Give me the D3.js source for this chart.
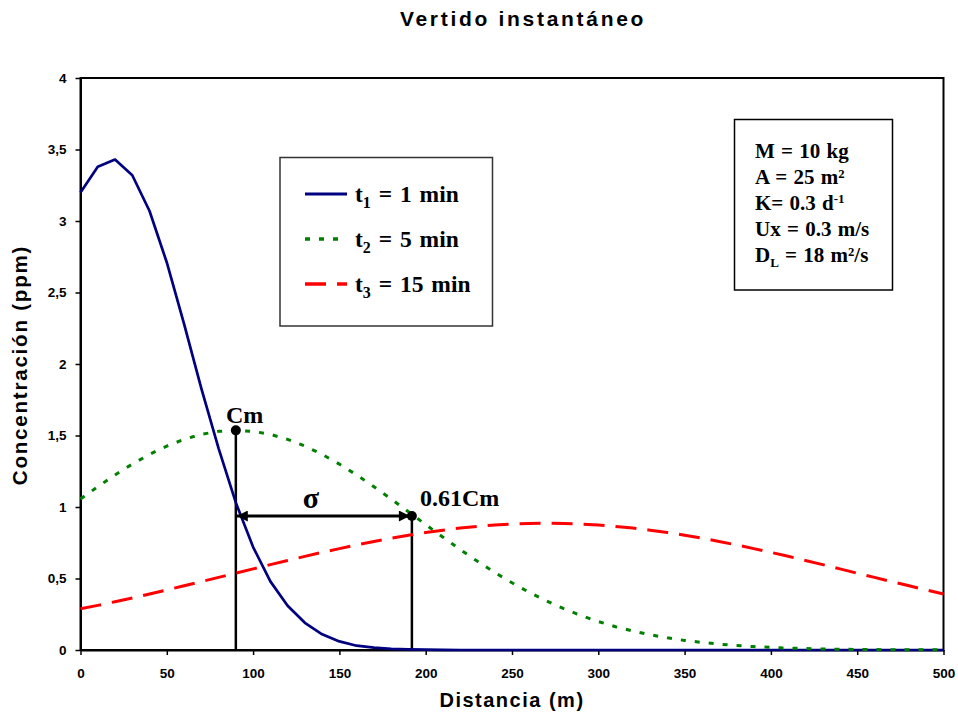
<!DOCTYPE html>
<html>
<head>
<meta charset="utf-8">
<script src="https://cdn.jsdelivr.net/npm/d3@7"></script>
<style>
  body { margin: 0; background: #fff; }
  svg { display: block; }
  .sans { font-family: "Liberation Sans", Arial, sans-serif; font-weight: bold; }
  .serif { font-family: "Liberation Serif", "Times New Roman", serif; font-weight: bold; }
</style>
</head>
<body>
<div id="chart"></div>
<script>
// distance (m), every 10 m
var distancia = d3.range(0, 501, 10);
// t1 = 1 min
var c_t1 = [3.20, 3.38, 3.43, 3.32, 3.07, 2.71, 2.28, 1.83, 1.41, 1.03,
            0.72, 0.48, 0.31, 0.19, 0.11, 0.06, 0.03, 0.016, 0.008, 0.004,
            0.002, 0.001, 0, 0, 0, 0, 0, 0, 0, 0,
            0, 0, 0, 0, 0, 0, 0, 0, 0, 0,
            0, 0, 0, 0, 0, 0, 0, 0, 0, 0, 0];
// t2 = 5 min
var c_t2 = [1.056, 1.142, 1.224, 1.300, 1.368, 1.426, 1.473, 1.508, 1.529, 1.536,
            1.529, 1.508, 1.473, 1.426, 1.368, 1.300, 1.224, 1.142, 1.056, 0.967,
            0.877, 0.789, 0.702, 0.620, 0.542, 0.470, 0.403, 0.343, 0.289, 0.241,
            0.199, 0.163, 0.133, 0.107, 0.085, 0.067, 0.053, 0.041, 0.031, 0.024,
            0.018, 0.013, 0.010, 0.007, 0.005, 0.004, 0.003, 0.002, 0.001, 0.001, 0.001];
// t3 = 15 min
var c_t3 = [0.288, 0.312, 0.338, 0.364, 0.392, 0.420, 0.449, 0.478, 0.508, 0.537,
            0.567, 0.597, 0.626, 0.655, 0.683, 0.709, 0.735, 0.759, 0.782, 0.803,
            0.822, 0.838, 0.853, 0.864, 0.874, 0.881, 0.885, 0.886, 0.885, 0.881,
            0.874, 0.864, 0.853, 0.838, 0.822, 0.803, 0.782, 0.759, 0.735, 0.709,
            0.683, 0.655, 0.626, 0.597, 0.567, 0.537, 0.508, 0.478, 0.449, 0.420, 0.392];

var xTicks = d3.range(0, 501, 50);
var yTicks = [0, 0.5, 1, 1.5, 2, 2.5, 3, 3.5, 4];

// Cm and 0.61Cm points of the t2 curve
var cmPoint = [90, 1.536];
var sigmaPoint = [192, 0.937];

var seriesInfo = [
    {sub: '1', label: ' = 1 min', values: c_t1, color: '#000080', width: 2.7, dash: null},
    {sub: '2', label: ' = 5 min', values: c_t2, color: '#008000', width: 3, dash: '5,9'},
    {sub: '3', label: ' = 15 min', values: c_t3, color: '#ff0000', width: 3, dash: '21,11'}
];

var W = 958, H = 716;
var svg = d3.select('#chart').append('svg').attr('width', W).attr('height', H);

var x = d3.scaleLinear().domain([0, 500]).range([80.5, 943.5]);
var y = d3.scaleLinear().domain([0, 4]).range([650, 78]);
var fmt = d3.formatLocale({decimal: ',', thousands: '.', grouping: [3], currency: ['', '']}).format('~g');

// frame
svg.append('rect')
   .attr('x', x(0)).attr('y', y(4))
   .attr('width', x(500) - x(0)).attr('height', y(0) - y(4))
   .attr('fill', 'none').attr('stroke', '#000').attr('stroke-width', 2);

var yAxis = svg.append('g').attr('class', 'sans')
   .attr('transform', 'translate(' + x(0) + ',0)')
   .call(d3.axisLeft(y).tickValues(yTicks).tickFormat(fmt).tickSize(5).tickSizeOuter(0).tickPadding(9));
var xAxis = svg.append('g').attr('class', 'sans')
   .attr('transform', 'translate(0,' + y(0) + ')')
   .call(d3.axisBottom(x).tickValues(xTicks).tickFormat(d3.format('d')).tickSize(5).tickSizeOuter(0).tickPadding(13));
[yAxis, xAxis].forEach(function (ax) {
    ax.attr('font-family', null).attr('font-size', null);
    ax.selectAll('text').style('font-size', '13.5px').attr('fill', '#000');
    ax.select('.domain').attr('stroke', '#000').attr('stroke-width', 2);
    ax.selectAll('.tick line').attr('stroke', '#000').attr('stroke-width', 1.5);
});

// annotation lines (behind curves)
var ann = svg.append('g');
ann.append('line')
   .attr('x1', x(cmPoint[0])).attr('x2', x(cmPoint[0]))
   .attr('y1', y(cmPoint[1])).attr('y2', y(0))
   .attr('stroke', '#000').attr('stroke-width', 2.5);
ann.append('line')
   .attr('x1', x(sigmaPoint[0])).attr('x2', x(sigmaPoint[0]))
   .attr('y1', y(sigmaPoint[1])).attr('y2', y(0))
   .attr('stroke', '#000').attr('stroke-width', 2.5);

// curves
var line = d3.line()
    .x(function (d, i) { return x(distancia[i]); })
    .y(function (d) { return y(d); });
seriesInfo.forEach(function (s) {
    svg.append('path')
       .datum(s.values)
       .attr('d', line)
       .attr('fill', 'none')
       .attr('stroke', s.color)
       .attr('stroke-width', s.width)
       .attr('stroke-linejoin', 'round')
       .attr('stroke-dasharray', s.dash);
});

// sigma arrow
var defs = svg.append('defs');
defs.append('marker').attr('id', 'arr')
    .attr('viewBox', '0 0 10 10').attr('refX', 10).attr('refY', 5)
    .attr('markerWidth', 13).attr('markerHeight', 11).attr('markerUnits', 'userSpaceOnUse')
    .attr('orient', 'auto-start-reverse')
    .append('path').attr('d', 'M0,0 L10,5 L0,10 Z').attr('fill', '#000');
svg.append('line')
   .attr('x1', x(cmPoint[0]) + 1).attr('x2', x(sigmaPoint[0]) - 2)
   .attr('y1', y(sigmaPoint[1])).attr('y2', y(sigmaPoint[1]))
   .attr('stroke', '#000').attr('stroke-width', 3)
   .attr('marker-start', 'url(#arr)').attr('marker-end', 'url(#arr)');

[cmPoint, sigmaPoint].forEach(function (p) {
    svg.append('circle').attr('cx', x(p[0])).attr('cy', y(p[1])).attr('r', 5).attr('fill', '#000');
});
svg.append('text').attr('class', 'serif').attr('x', 226).attr('y', 423)
   .style('font-size', '24px').text('Cm');
svg.append('text').attr('class', 'serif').attr('x', 420).attr('y', 506)
   .style('font-size', '24px').text('0.61Cm');
svg.append('text').attr('class', 'serif').attr('x', 311).attr('y', 508)
   .attr('text-anchor', 'middle').style('font-size', '30px').text('σ');

// legend
var leg = svg.append('g');
leg.append('rect').attr('x', 280).attr('y', 157.5).attr('width', 212.5).attr('height', 168.5)
   .attr('fill', '#fff').attr('stroke', '#333').attr('stroke-width', 1.5);
seriesInfo.forEach(function (s, i) {
    var cy = 194 + i * 45;
    leg.append('line').attr('x1', 305).attr('x2', 347).attr('y1', cy).attr('y2', cy)
       .attr('stroke', s.color).attr('stroke-width', s.width + 0.5)
       .attr('stroke-dasharray', s.dash);
    var t = leg.append('text').attr('class', 'serif').attr('x', 355).attr('y', cy + 8)
       .style('font-size', '23.5px').style('word-spacing', '2px');
    t.append('tspan').text('t');
    t.append('tspan').attr('dy', 6).style('font-size', '16px').text(s.sub);
    t.append('tspan').attr('dy', -6).text(s.label);
});

// parameters box
var par = svg.append('g');
par.append('rect').attr('x', 734.5).attr('y', 119.5).attr('width', 158).attr('height', 170.5)
   .attr('fill', '#fff').attr('stroke', '#000').attr('stroke-width', 1.5);
var parLines = [
    [['M = 10 kg', 0]],
    [['A = 25 m²', 0]],
    [['K= 0.3 d', 0], ['-1', -7]],
    [['Ux = 0.3 m/s', 0]],
    [['D', 0], ['L', 5], [' = 18 m²/s', 0]]
];
parLines.forEach(function (parts, i) {
    var t = par.append('text').attr('class', 'serif').attr('x', 755).attr('y', 158 + i * 26)
       .style('font-size', '21px').style('word-spacing', '1px');
    parts.forEach(function (p) {
        var sp = t.append('tspan').text(p[0]);
        if (p[1] !== 0) {
            sp.attr('baseline-shift', -p[1]).style('font-size', '13px');
        }
    });
});

// titles
svg.append('text').attr('class', 'sans').attr('x', 523).attr('y', 26)
   .attr('text-anchor', 'middle').style('font-size', '21px').style('letter-spacing', '2.7px')
   .text('Vertido instantáneo');
svg.append('text').attr('class', 'sans').attr('x', 512).attr('y', 707)
   .attr('text-anchor', 'middle').style('font-size', '20px').style('letter-spacing', '1.5px')
   .text('Distancia (m)');
svg.append('text').attr('class', 'sans')
   .attr('transform', 'translate(27,365) rotate(-90)')
   .attr('text-anchor', 'middle').style('font-size', '20.5px').style('letter-spacing', '1.8px')
   .text('Concentración (ppm)');
</script>
</body>
</html>
